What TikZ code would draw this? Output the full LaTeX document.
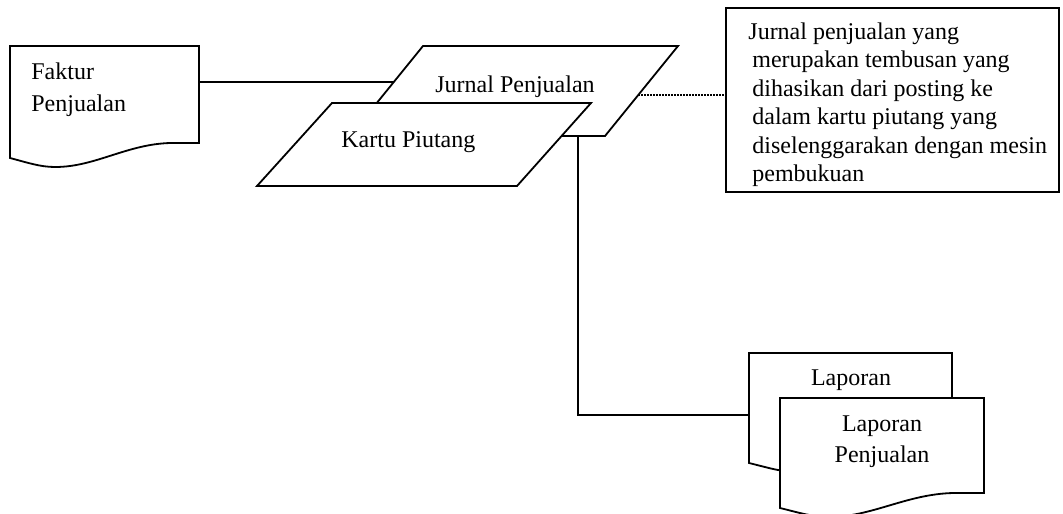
\documentclass[tikz,border=0pt]{standalone}
\usepackage{fontspec}
\setmainfont{Liberation Serif}
\usetikzlibrary{calc}

% Document symbol: straight top and sides, wavy bottom edge.
% #1 name prefix, #2 top-left corner, #3 bottom-right corner (level of the left bottom)
\newcommand\wavedoc[3]{%
  \coordinate (#1-nw) at #2;
  \coordinate (#1-se) at #3;
  \coordinate (#1-sw) at (#1-nw |- #1-se);
  \coordinate (#1-ne) at (#1-se |- #1-nw);
  \draw[outline] (#1-nw) -- (#1-sw)
    .. controls ($(#1-sw)!0.10!(#1-se)+(0,5)$) and ($(#1-sw)!0.16!(#1-se)+(0,9)$)
    .. ($(#1-sw)!0.24!(#1-se)+(0,9)$)
    .. controls ($(#1-sw)!0.45!(#1-se)+(0,9)$) and ($(#1-sw)!0.62!(#1-se)+(0,-14)$)
    .. ($(#1-sw)!0.85!(#1-se)+(0,-15)$)
    -- ($(#1-se)+(0,-15)$) -- (#1-ne) -- cycle;
}

\begin{document}
\begin{tikzpicture}[x=0.5pt,y=-0.5pt,
  outline/.style={draw=black, line width=0.9pt, fill=white, line join=miter},
  link/.style={draw=black, line width=0.9pt},
  dotlink/.style={draw=black, line width=0.6pt, dash pattern=on 0.6pt off 0.9pt},
  lbl/.style={inner sep=0pt, font=\fontsize{12}{14.2}\selectfont},
  doclbl/.style={inner sep=0pt, font=\fontsize{12}{15.8}\selectfont},
  notebox/.style={draw=black, line width=0.9pt, fill=white, inner sep=0pt,
    minimum width=166.5pt, minimum height=92pt, anchor=north west},
]
\useasboundingbox (0,0) rectangle (1063,513);

% ---- Faktur Penjualan (source document) ----
\wavedoc{fk}{(10,46)}{(199,158)}
\node[doclbl, anchor=north west, align=left] (fk-text) at (31,62.6) {Faktur\\Penjualan};

% ---- Jurnal Penjualan and Kartu Piutang (stacked parallelograms) ----
\coordinate (jA) at (350,136);
\coordinate (jB) at (605,136);
\coordinate (jC) at (678,46);
\coordinate (jD) at (423,46);
\draw[outline] (jA) -- (jB) -- (jC) -- (jD) -- cycle;
\node[lbl, anchor=base west] (jurnal) at (435,93) {Jurnal Penjualan};

\coordinate (kA) at (257,186);
\coordinate (kB) at (517,186);
\coordinate (kC) at (591,103);
\coordinate (kD) at (332,103);
\draw[outline] (kA) -- (kB) -- (kC) -- (kD) -- cycle;
\node[lbl, anchor=base west] (kartu) at (341,148) {Kartu Piutang};

% ---- Explanatory note ----
\node[notebox] (note) at (725,7) {};
\node[lbl, anchor=north west, align=left] (note-text) at (752,22.5)
  {\hspace*{-2pt}Jurnal penjualan yang\\
   merupakan tembusan yang\\
   dihasikan dari posting ke\\
   dalam kartu piutang yang\\
   diselenggarakan dengan mesin\\
   pembukuan};

% ---- Laporan documents (back and front) ----
\wavedoc{lp}{(749,353)}{(952,463)}
\node[lbl, anchor=base] (lp-text) at (851,385) {Laporan};
\wavedoc{ls}{(780,398)}{(984,508)}
\node[doclbl, anchor=north, align=center] (ls-text) at (882,415.1) {Laporan\\Penjualan};

% ---- Connectors ----
\coordinate (fk-out) at ($(fk-ne)!0.321!(fk-se)$);
\coordinate (j-in) at ($(jA)!0.6!(jD)$);
\draw[link] (fk-out) -- (fk-out -| j-in);

\coordinate (j-note) at ($(jB)!0.456!(jC)$);
\draw[dotlink] (j-note) -- (j-note -| note.west);

\coordinate (j-down) at ($(jA)!0.894!(jB)$);
\coordinate (lp-in) at ($(lp-nw)!0.565!(lp-sw)$);
\draw[link] (j-down) |- (lp-in);
\end{tikzpicture}
\end{document}
